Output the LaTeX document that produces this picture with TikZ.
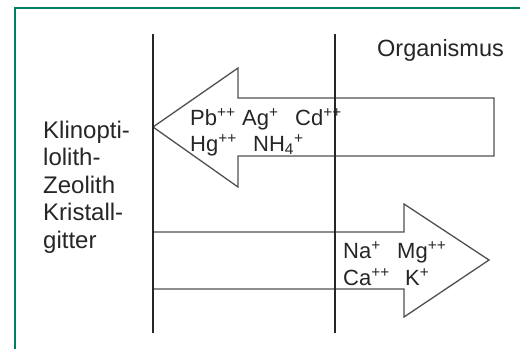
\documentclass[tikz,border=0pt]{standalone}
\usepackage{fontspec}
\setmainfont{Liberation Sans}
\definecolor{framegreen}{RGB}{0,128,96}
\definecolor{arrowgray}{RGB}{80,80,80}
\begin{document}
\begin{tikzpicture}[x=1bp,y=-1bp,
  wall/.style={line width=1.8bp,draw=black!85},
  flow/.style={line width=1.3bp,draw=arrowgray,line join=miter},
  lbl/.style={inner sep=0pt,anchor=base west,text=black!85},
  ion/.style={lbl,font=\fontsize{22bp}{26bp}\selectfont}]
\useasboundingbox (0,0) rectangle (520,348);
\fill[white] (0,0) rectangle (520,348);
% green frame (top and left edges visible)
\draw[framegreen,line width=1.3bp] (15,360) -- (15,8) -- (530,8);
% walls
\coordinate (w1t) at (153,34); \coordinate (w1b) at (153,333);
\coordinate (w2t) at (335,34); \coordinate (w2b) at (335,333);
% upper arrow (to the left)
\draw[flow] (153,127) -- (238,68) -- (238,98) -- (494,98) -- (494,156) -- (238,156) -- (238,187) -- cycle;
% lower arrow (to the right)
\draw[flow] (153,232) -- (404,232) -- (404,204) -- (489,260) -- (404,317) -- (404,289) -- (153,289);
\draw[wall] (w1t) -- (w1b);
\draw[wall] (w2t) -- (w2b);
% labels
\node[lbl,font=\fontsize{23.5bp}{28bp}\selectfont] (org) at (377,56) {Organismus};
\node[inner sep=0pt,anchor=north west,align=left,text=black!85,
      font=\fontsize{24bp}{27.5bp}\selectfont] (kz) at (43,120.5)
  {Klinopti-\\lolith-\\Zeolith\\Kristall-\\gitter};
\node[ion] (ionA) at (190,125) {\makebox[52bp][l]{Pb\textsuperscript{++}}\makebox[53bp][l]{Ag\textsuperscript{+}}Cd\textsuperscript{++}};
\node[ion] (ionB) at (190,151) {\makebox[63bp][l]{Hg\textsuperscript{++}}NH\textsubscript{4}\textsuperscript{+}};
\node[ion] (ionC) at (343,258) {\makebox[54bp][l]{Na\textsuperscript{+}}Mg\textsuperscript{++}};
\node[ion] (ionD) at (343,285) {\makebox[62bp][l]{Ca\textsuperscript{++}}K\textsuperscript{+}};
\end{tikzpicture}
\end{document}
